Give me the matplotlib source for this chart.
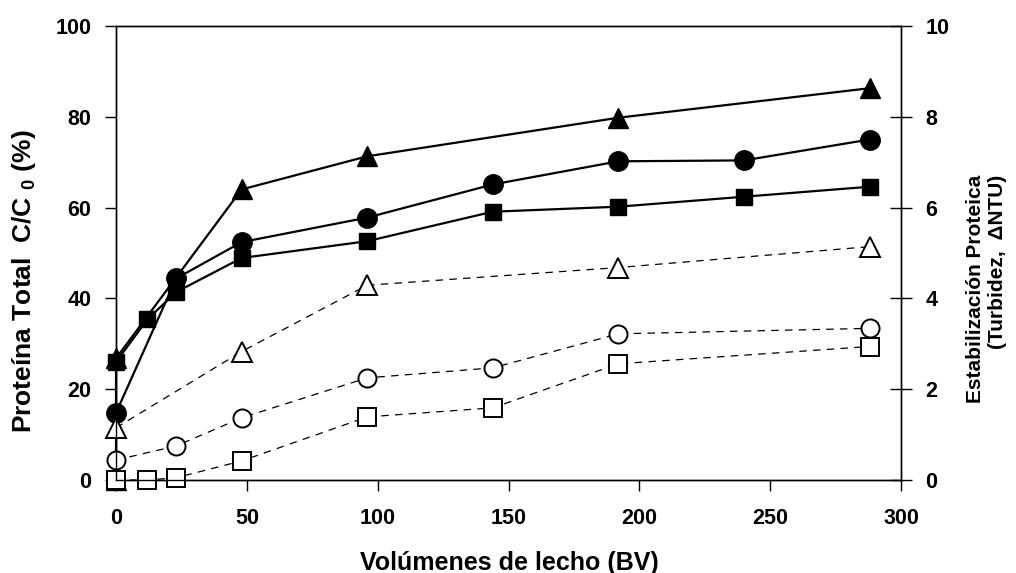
import numpy as np
import matplotlib
matplotlib.use("Agg")
import matplotlib.pyplot as plt

plt.rcParams['font.family'] = ['Liberation Sans', 'DejaVu Sans']
plt.rcParams['font.weight'] = 'bold'
plt.rcParams['mathtext.fontset'] = 'custom'
plt.rcParams['mathtext.rm'] = 'Liberation Sans:bold'
plt.rcParams['mathtext.bf'] = 'Liberation Sans:bold'

# proteina total (eje izq, %)
x_sq = [0, 12, 23, 48, 96, 144, 192, 240, 288]
y_sq = [26.0, 35.4, 41.4, 48.9, 52.6, 59.1, 60.2, 62.4, 64.6]
x_ci = [0, 23, 48, 96, 144, 192, 240, 288]
y_ci = [14.8, 44.4, 52.4, 57.8, 65.1, 70.2, 70.4, 75.0]
x_tr = [0, 0, 48, 96, 192, 288]
y_tr = [0.0, 26.8, 64.0, 71.3, 79.8, 86.3]

# estabilizacion (eje der, NTU)
x_otr = [0, 48, 96, 192, 288]
y_otr = [1.15, 2.83, 4.29, 4.68, 5.14]
x_oci = [0, 23, 48, 96, 144, 192, 288]
y_oci = [0.44, 0.75, 1.37, 2.25, 2.47, 3.22, 3.34]
x_osq = [0, 12, 23, 48, 96, 144, 192, 288]
y_osq = [0.0, 0.0, 0.05, 0.42, 1.39, 1.59, 2.56, 2.94]

fig = plt.figure(figsize=(10.16, 5.73), dpi=100)
ax = fig.add_axes([0.1142, 0.1623, 0.7726, 0.7923])
ax2 = ax.twinx()

solid = dict(color='black', lw=1.6, clip_on=False)
ax.plot(x_tr, y_tr, marker='^', ms=15, **solid)
ax.plot(x_ci, y_ci, marker='o', ms=14, **solid)
ax.plot(x_sq, y_sq, marker='s', ms=11.5, **solid)

dash = dict(color='black', lw=0.9, ls=(0, (6, 5)), mfc='white', mec='black', mew=1.4, clip_on=False)
ax2.plot(x_otr, y_otr, marker='^', ms=15, **dash)
ax2.plot(x_oci, y_oci, marker='o', ms=13, **dash)
ax2.plot(x_osq, y_osq, marker='s', ms=12.5, **dash)

ax.set_xlim(0, 300)
ax.set_ylim(0, 100)
ax2.set_ylim(0, 10)
ax.set_xticks(np.arange(0, 301, 50))
ax.set_yticks(np.arange(0, 101, 20))
ax2.set_yticks(np.arange(0, 11, 2))

for a in (ax, ax2):
    for s in a.spines.values():
        s.set_linewidth(1.0)
ax.tick_params(axis='x', direction='out', length=8, width=1, labelsize=15.5, pad=12)
ax.tick_params(axis='y', direction='out', length=8, width=1, labelsize=15.5, pad=9.6)
ax2.tick_params(axis='y', direction='inout', length=16, width=1, labelsize=15.5, pad=9.4)

fig.text(0.501, 0.018, 'Volúmenes de lecho (BV)', fontsize=18, fontweight='bold',
         ha='center', va='center')
fig.text(0.0236, 0.5087, 'Proteína Total  C/C $_{0}$ (%)', fontsize=19, fontweight='bold',
         ha='center', va='center', rotation=90)
fig.text(0.971, 0.4965, 'Estabilización Proteica\n(Turbidez,  ΔNTU)', fontsize=15,
         fontweight='bold', ha='center', va='center', rotation=90,
         multialignment='right', linespacing=1.25)

fig.savefig('out.png', dpi=100)
